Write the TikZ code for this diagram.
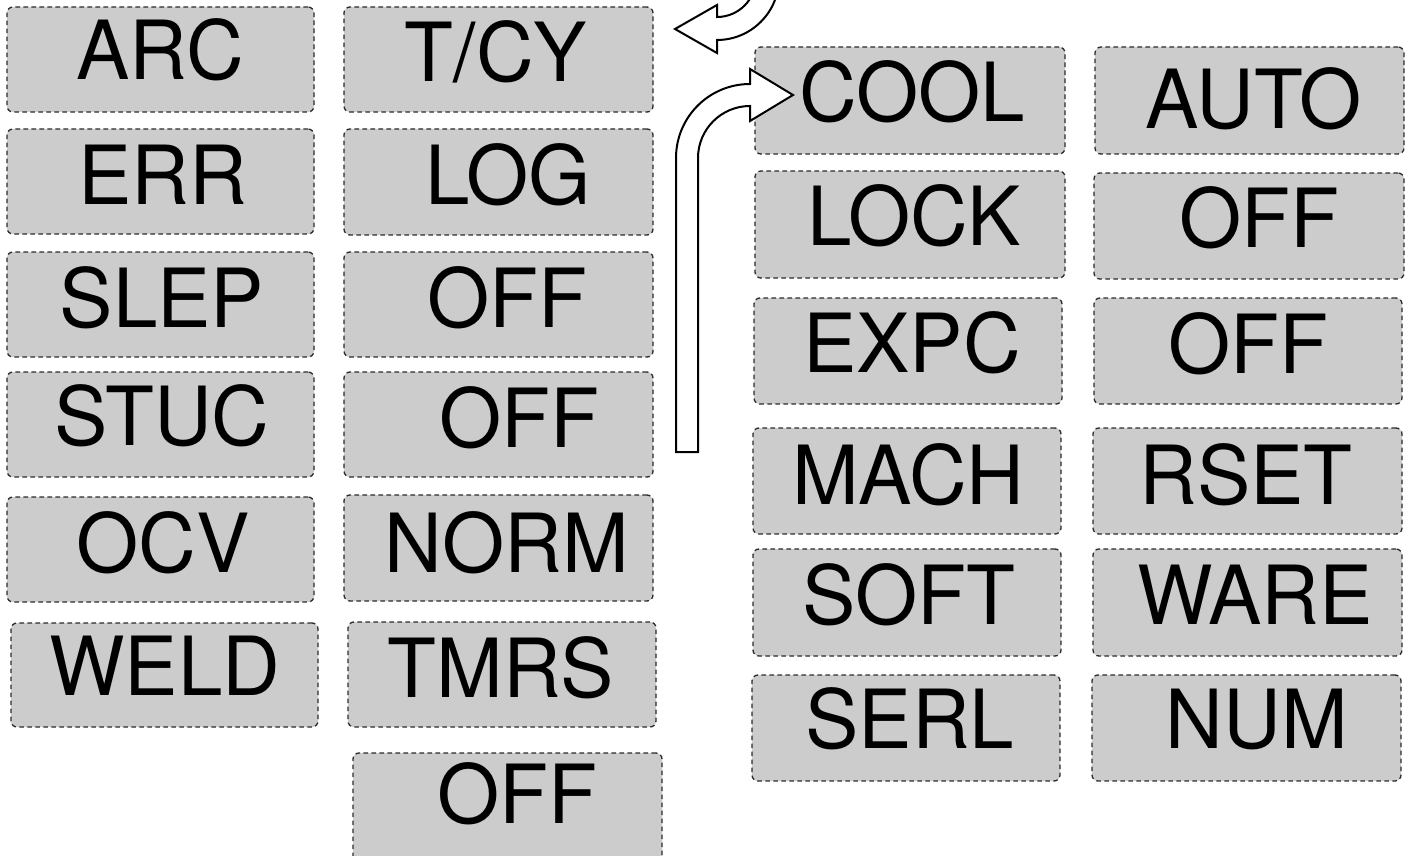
\documentclass[tikz,border=0pt]{standalone}
\usepackage{fontspec}
\setmainfont{TeX Gyre Heros}[FakeStretch=0.98]
\definecolor{boxfill}{HTML}{CCCCCC}
\definecolor{boxline}{HTML}{2A2A2A}
\tikzset{
  cellbox/.style={draw=boxline, fill=boxfill, line width=0.65pt,
    dash pattern=on 2.3pt off 1.7pt, rounded corners=3pt,
    inner sep=0pt, outer sep=0pt},
  celltext/.style={anchor=base, inner sep=0pt, outer sep=0pt,
    font=\fontsize{40.8pt}{48pt}\selectfont},
  hollowarrow/.style={draw=black, fill=white, line width=1pt, line join=miter}
}
% #1 name, #2 x1, #3 y1, #4 x2, #5 y2, #6 text centre x, #7 baseline y, #8 text
\newcommand\cellat[8]{%
  \node[cellbox, minimum width={(#4-#2)*0.5pt}, minimum height={(#5-#3)*0.5pt}]
    (#1) at ({(#2+#4)/2},{(#3+#5)/2}) {};
  \node[celltext] (#1-t) at (#6,#7) {#8};
}
\begin{document}
\begin{tikzpicture}[x=0.5pt, y=-0.5pt]
\useasboundingbox (0,0) rectangle (1408,856);
\clip (0,0) rectangle (1408,856);
% column 1
\cellat{arc}{7}{7}{314}{112}{160}{80}{ARC}
\cellat{err}{7}{129}{314}{234}{163}{204}{ERR}
\cellat{slep}{7}{252}{314}{357}{162}{327}{SLEP}
\cellat{stuc}{7}{372}{314}{477}{162}{445}{STUC}
\cellat{ocv}{7}{497}{314}{602}{163}{572}{OCV}
\cellat{weld}{11}{623}{318}{727}{165}{695}{WELD}
% column 2
\cellat{tcy}{344}{7}{653}{112}{496}{82}{T/CY}
\cellat{log}{344}{129}{653}{235}{508}{204}{LOG}
\cellat{offa}{344}{252}{653}{357}{507}{327}{OFF}
\cellat{offb}{344}{372}{653}{477}{519}{447}{OFF}
\cellat{norm}{344}{495}{653}{601}{507}{572}{NORM}
\cellat{tmrs}{348}{622}{656}{727}{501}{697}{TMRS}
\cellat{offc}{353}{753}{662}{862}{517}{823}{OFF}
% column 3
\cellat{cool}{755}{47}{1065}{154}{912}{122}{COOL}
\cellat{lock}{755}{171}{1065}{278}{914}{245}{LOCK}
\cellat{expc}{754}{298}{1062}{404}{912}{372}{EXPC}
\cellat{mach}{753}{428}{1061}{534}{908}{504}{MACH}
\cellat{soft}{753}{549}{1061}{656}{909}{624}{SOFT}
\cellat{serl}{752}{675}{1060}{781}{910}{748}{SERL}
% column 4
\cellat{auto}{1095}{47}{1404}{154}{1254}{128}{AUTO}
\cellat{offd}{1094}{173}{1404}{279}{1259}{247}{OFF}
\cellat{offe}{1094}{298}{1402}{404}{1248}{373}{OFF}
\cellat{rset}{1093}{428}{1402}{534}{1246}{504}{RSET}
\cellat{ware}{1093}{549}{1402}{656}{1255}{624}{WARE}
\cellat{num}{1092}{675}{1401}{781}{1257}{748}{NUM}
% hollow arrow coming back at the top, pointing left
\coordinate (tip1) at (675,29);
\path[hollowarrow] (717,40) .. controls (751.2,40) and (779,12.2) .. (779,-22)
  -- (779,-70) -- (756,-70) -- (756,-22)
  .. controls (756,-0.5) and (738.5,17) .. (717,17)
  -- (717,5) -- (tip1) -- (717,53) -- cycle;
% hollow arrow rising and turning right into COOL
\coordinate (tip2) at (793,95);
\path[hollowarrow] (676,452) -- (676,158)
  .. controls (676,117.1) and (709.1,84) .. (750,84)
  -- (750,69) -- (tip2) -- (750,121) -- (750,106)
  .. controls (721.3,106) and (698,129.3) .. (698,158)
  -- (698,452) -- cycle;
\end{tikzpicture}
\end{document}
